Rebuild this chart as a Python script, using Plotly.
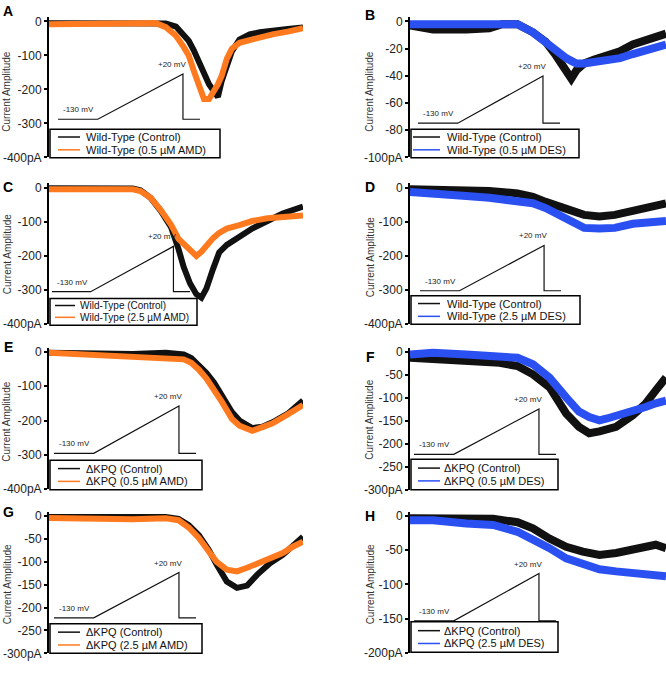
import plotly.graph_objects as go

W, H = 666, 683

# ------------------------- data -------------------------
t_A = [0, 20, 33, 42, 46, 50, 53, 55, 57, 59, 61, 63, 65, 66.5, 68, 70, 72, 75, 79, 83, 88, 94, 100]
ctrl_A = [-5, -6, -5, -4, -6, -15, -38, -57, -85, -115, -152, -185, -210, -222, -175, -125, -88, -53, -38, -32, -26, -22, -18]
drug_A = [-8, -8, -6, -5, -17, -42, -75, -100, -145, -190, -228, -228, -205, -185, -160, -110, -80, -63, -55, -47, -38, -30, -20]

t_B = [0, 9, 22, 31, 36, 42, 48, 53, 57, 61, 63, 65, 68, 72, 77, 82, 87, 92, 96, 100]
ctrl_B = [-3, -6, -6, -5, -2, -2, -8, -15, -25, -37, -42, -36, -31, -28, -25, -22, -17, -14, -11, -9]
drug_B = [-2, -2, -2, -1, -1, -2, -8, -16, -22, -27, -29, -31, -31, -30, -29, -27, -24, -21, -19, -17]

t_C = [0, 20, 33, 36, 40, 44, 48, 51, 53, 55.5, 58, 60, 62, 64.6, 67, 70, 75, 80, 86, 92, 100]
ctrl_C = [-2, -3, -3, -8, -30, -68, -115, -180, -232, -280, -312, -322, -295, -238, -190, -168, -142, -120, -98, -76, -56]
drug_C = [-5, -6, -5, -10, -30, -66, -108, -150, -165, -185, -200, -188, -168, -148, -133, -120, -110, -98, -90, -85, -82]

t_D = [0, 9, 22, 31, 42, 48, 53, 58, 61, 65, 68, 74, 80, 87, 94, 100]
ctrl_D = [-5, -5, -6, -10, -17, -27, -42, -55, -65, -75, -80, -85, -80, -68, -56, -46]
drug_D = [-13, -20, -25, -30, -37, -46, -60, -80, -94, -108, -118, -120, -118, -106, -100, -98]

t_E = [0, 20, 33, 46, 53, 56, 59, 62, 65, 68, 72, 75, 80, 84, 88, 94, 100]
ctrl_E = [-3, -5, -6, -3, -8, -18, -38, -62, -90, -125, -175, -200, -222, -218, -205, -180, -142]
drug_E = [-3, -10, -14, -16, -22, -32, -52, -78, -108, -145, -195, -215, -230, -220, -208, -182, -155]

t_F = [0, 9, 22, 35, 42, 48, 54.5, 61, 66, 70, 74, 77, 80.5, 87, 92, 96, 100]
ctrl_F = [-13, -16, -20, -24, -31, -49, -77, -134, -163, -177, -173, -170, -163, -138, -113, -84, -56]
drug_F = [-6, -2, -6, -9, -13, -27, -56, -99, -130, -142, -149, -145, -140, -130, -120, -112, -106]

t_G = [0, 20, 33, 46, 51, 55, 59, 63, 66, 70, 74, 78, 82, 87, 92, 96, 100]
ctrl_G = [-2, -3, -4, -2, -6, -20, -42, -75, -106, -143, -157, -152, -128, -103, -85, -64, -45]
drug_G = [-4, -6, -7, -5, -9, -25, -48, -78, -100, -117, -121, -113, -103, -92, -81, -67, -56]

t_H = [0, 9, 22, 32.5, 42, 48, 54.5, 61, 67.5, 74, 80.5, 87, 92, 96, 100]
ctrl_H = [-3, -3, -4, -4, -9, -18, -33, -45, -52, -57, -54, -50, -47, -42, -47]
drug_H = [-6, -6, -11, -13, -23, -33, -47, -62, -71, -78, -81, -83, -83, -85, -88]

panel_letters = ["A", "B", "C", "D", "E", "F", "G", "H"]
ctrl_labels = ["Wild-Type (Control)", "Wild-Type (Control)", "Wild-Type (Control)", "Wild-Type (Control)",
               "\u0394KPQ (Control)", "\u0394KPQ (Control)", "\u0394KPQ (Control)", "\u0394KPQ (Control)"]
drug_labels = ["Wild-Type (0.5 \u00b5M AMD)", "Wild-Type (0.5 \u00b5M DES)",
               "Wild-Type (2.5 \u00b5M AMD)", "Wild-Type (2.5 \u00b5M DES)",
               "\u0394KPQ (0.5 \u00b5M AMD)", "\u0394KPQ (0.5 \u00b5M DES)",
               "\u0394KPQ (2.5 \u00b5M AMD)", "\u0394KPQ (2.5 \u00b5M DES)"]
y_min = [-400, -100, -400, -400, -400, -300, -300, -200]
y_step = [100, 20, 100, 100, 100, 50, 50, 50]
y_title = "Current Amplitude"
y_unit = "pA"

protocol_t = [0, 28, 88, 88, 100]
protocol_v = [-130, -130, 20, -130, -130]
protocol_low_label = "-130 mV"
protocol_high_label = "+20 mV"

series_t = [t_A, t_B, t_C, t_D, t_E, t_F, t_G, t_H]
series_ctrl = [ctrl_A, ctrl_B, ctrl_C, ctrl_D, ctrl_E, ctrl_F, ctrl_G, ctrl_H]
series_drug = [drug_A, drug_B, drug_C, drug_D, drug_E, drug_F, drug_G, drug_H]

# ------------------------- layout specs (pixels) -------------------------
BLACK = "#111111"
ORANGE = "#FF7A1E"
BLUE = "#2A50F2"
FONT = "Liberation Sans, Arial, sans-serif"

# axis_x, right_x, y0_px (value 0), ymin_px
frames = [
    (49, 303, 18.7, 156.7), (410, 666, 18.7, 156.7),
    (49, 303, 187.3, 326.0), (410, 666, 187.3, 326.0),
    (49, 303, 354.0, 493.5), (410, 666, 354.0, 494.0),
    (49, 303, 520.7, 660.0), (410, 666, 520.7, 659.3),
]
# protocol inset: x_start, x_end, y_top(+20), y_bottom(-130)
insets = [
    (58, 200, 72, 118), (418, 560, 74, 122),
    (52, 190, 247, 293), (420, 561, 246, 292),
    (54, 196, 409, 457), (414, 556, 412, 458),
    (54, 196, 578, 624), (414, 556, 579, 627),
]
# legend: box x0, x1, y0, y1, line x0, x1, text x, row1 y, row2 y, font size
legends = [
    (50, 220, 128, 157, 58, 80, 85, 136, 149, 11),
    (411, 579, 128, 157, 413, 440, 446, 136, 149, 11),
    (50, 197, 300, 327, 55, 75, 79, 307, 319, 10),
    (411, 580, 297, 326, 418, 440, 446, 305, 318, 11),
    (50, 202, 464, 494, 58, 80, 85, 472.5, 485.5, 11),
    (411, 558, 463, 494, 418, 440, 443, 472, 485, 11),
    (50, 202, 630, 660, 58, 80, 85, 638.5, 651.5, 11),
    (411, 558, 628, 659, 418, 440, 443, 637, 650, 11),
]
letters_pos = [(8, 8), (370, 12), (8, 187), (370, 187), (8, 349), (370, 359), (8, 517), (370, 521)]
title_pos = [(7, 90), (370, 90), (7, 255), (370, 258), (7, 425), (370, 423), (7, 590), (370, 590)]


def px(p):
    return p / W


def py(p):
    return 1 - p / H


fig = go.Figure()
layout = dict(
    width=W, height=H, margin=dict(l=0, r=0, t=0, b=0),
    paper_bgcolor="white", plot_bgcolor="rgba(0,0,0,0)",
    showlegend=False, font=dict(family=FONT, color="#222222"),
)
shapes = []
annotations = []

for i in range(8):
    n = i + 1
    ni = i + 9
    ax_x, right_x, y0p, yminp = frames[i]
    ymin = y_min[i]
    pad = 0.03
    top_px = y0p - pad * (yminp - y0p)
    xa = "x" if n == 1 else f"x{n}"
    ya = "y" if n == 1 else f"y{n}"
    drug_color = ORANGE if i % 2 == 0 else BLUE
    lw = 6 if i % 2 == 0 else 8

    fig.add_trace(go.Scatter(x=series_t[i], y=series_ctrl[i], mode="lines",
                             line=dict(color=BLACK, width=lw), xaxis=xa, yaxis=ya,
                             name=ctrl_labels[i]))
    fig.add_trace(go.Scatter(x=series_t[i], y=series_drug[i], mode="lines",
                             line=dict(color=drug_color, width=lw), xaxis=xa, yaxis=ya,
                             name=drug_labels[i]))

    tickvals = list(range(0, ymin - 1, -y_step[i]))
    ticktext = [str(v) for v in tickvals]
    ticktext[-1] = ticktext[-1] + y_unit

    layout[f"xaxis{n}"] = dict(domain=[px(ax_x), min(px(right_x), 1.0)], range=[0, 100],
                               visible=False, anchor=ya)
    layout[f"yaxis{n}"] = dict(
        domain=[py(yminp), py(top_px)], range=[ymin, -pad * ymin], anchor=xa,
        showgrid=False, zeroline=False, showline=True, linecolor="black", linewidth=2,
        ticks="outside", ticklen=3, tickwidth=1.5, tickcolor="black",
        tickvals=tickvals, ticktext=ticktext,
        tickfont=dict(size=12, family=FONT, color="#222222"),
    )

    # protocol inset
    xs, xe, yt, yb = insets[i]
    xpad = 2
    ux = (xe - xs) / 100.0
    uy = (yb - yt) / 150.0
    vlo, vhi = -136, 26
    xia = f"x{ni}"
    yia = f"y{ni}"
    layout[f"xaxis{ni}"] = dict(domain=[px(xs - xpad * ux), px(xe + xpad * ux)],
                                range=[-xpad, 100 + xpad], visible=False, anchor=yia)
    layout[f"yaxis{ni}"] = dict(domain=[py(yb + (-130 - vlo) * uy), py(yt - (vhi - 20) * uy)],
                                range=[vlo, vhi], visible=False, anchor=xia)
    fig.add_trace(go.Scatter(x=protocol_t, y=protocol_v, mode="lines",
                             line=dict(color=BLACK, width=1.2), xaxis=xia, yaxis=yia,
                             hoverinfo="skip"))
    annotations.append(dict(x=protocol_t[0], y=protocol_v[0], xref=xia, yref=yia,
                            text=protocol_low_label, showarrow=False, xanchor="left",
                            yanchor="bottom", xshift=3, yshift=3,
                            font=dict(size=8, family=FONT, color="#222222")))
    annotations.append(dict(x=protocol_t[2], y=protocol_v[2], xref=xia, yref=yia,
                            text=protocol_high_label, showarrow=False, xanchor="right",
                            yanchor="bottom", xshift=5, yshift=3,
                            font=dict(size=8, family=FONT, color="#222222")))

    # legend box
    bx0, bx1, by0, by1, lx0, lx1, tx, r1, r2, fs = legends[i]
    shapes.append(dict(type="rect", xref="paper", yref="paper", x0=px(bx0), x1=px(bx1),
                       y0=py(by1), y1=py(by0), line=dict(color="black", width=1.5),
                       fillcolor="white", layer="above"))
    for ry, col, lab in ((r1, BLACK, ctrl_labels[i]), (r2, drug_color, drug_labels[i])):
        shapes.append(dict(type="line", xref="paper", yref="paper", x0=px(lx0), x1=px(lx1),
                           y0=py(ry), y1=py(ry), line=dict(color=col, width=1.5), layer="above"))
        annotations.append(dict(x=px(tx), y=py(ry), xref="paper", yref="paper", text=lab,
                                showarrow=False, xanchor="left", yanchor="middle", borderpad=0,
                                font=dict(size=fs, family=FONT, color="#111111")))

    # panel letter
    lxp, lyp = letters_pos[i]
    annotations.append(dict(x=px(lxp), y=py(lyp), xref="paper", yref="paper",
                            text=f"<b>{panel_letters[i]}</b>", showarrow=False,
                            xanchor="center", yanchor="middle",
                            font=dict(size=14, family=FONT, color="black")))
    # y title
    txp, typ = title_pos[i]
    annotations.append(dict(x=px(txp), y=py(typ), xref="paper", yref="paper",
                            text=y_title, showarrow=False, textangle=-90,
                            xanchor="center", yanchor="middle",
                            font=dict(size=10, family=FONT, color="#333333")))

layout["shapes"] = shapes
layout["annotations"] = annotations
fig.update_layout(**layout)
fig.write_html("out.html", config={"displayModeBar": False},
               post_script="document.body.style.margin='0px';document.body.style.overflow='hidden';")
